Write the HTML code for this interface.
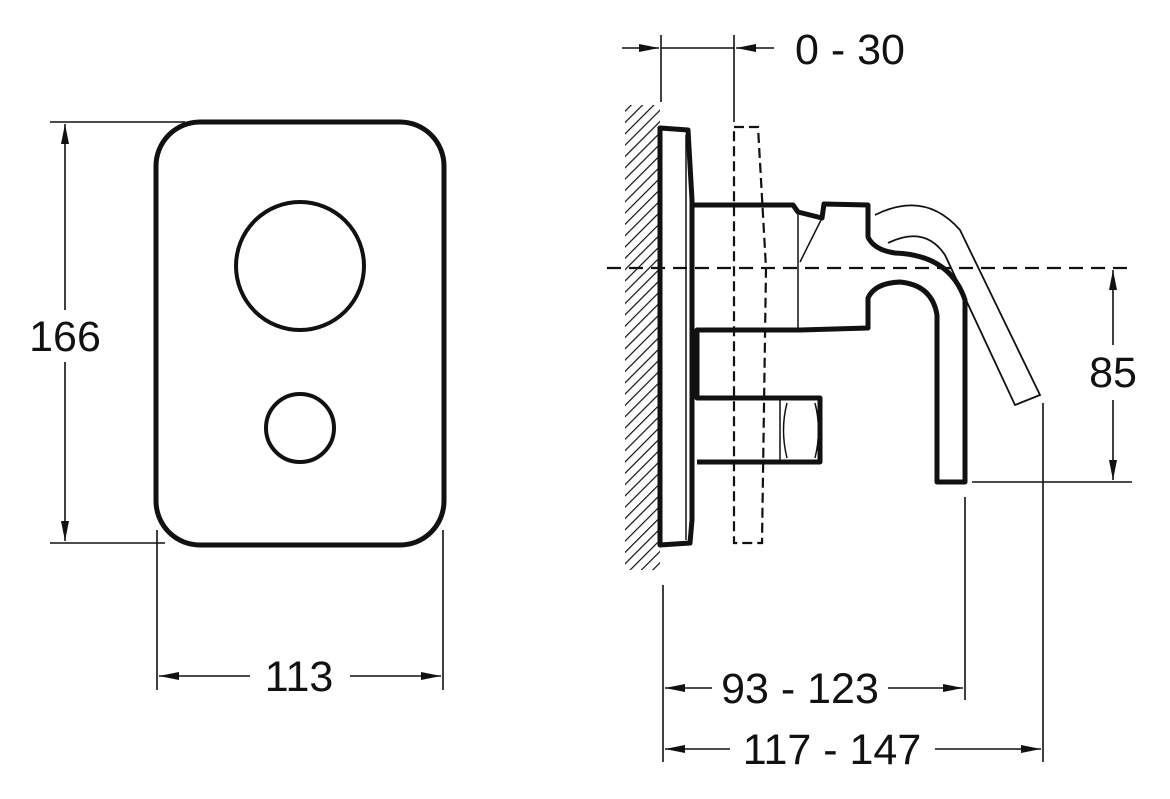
<!DOCTYPE html>
<html><head><style>
html,body{margin:0;padding:0;background:#fff;}
svg{display:block;}
text{font-family:"Liberation Sans",Arial,sans-serif;font-size:43px;fill:#111;}
</style></head><body>
<svg width="1170" height="799" viewBox="0 0 1170 799" xmlns="http://www.w3.org/2000/svg">
<defs>
<pattern id="h" width="8" height="8" patternUnits="userSpaceOnUse" patternTransform="rotate(45)">
<line x1="0" y1="0" x2="0" y2="8" stroke="#111" stroke-width="2.4"/>
</pattern>
<marker id="a" viewBox="0 0 20 8" refX="20" refY="4" markerWidth="20" markerHeight="8" markerUnits="userSpaceOnUse" orient="auto-start-reverse">
<path d="M0,0 L20,4 L0,8 z" fill="#111"/>
</marker>
</defs>
<g stroke="#111" fill="none">
<rect x="156" y="122" width="288" height="423" rx="44" stroke-width="5"/>
<circle cx="300" cy="266" r="64" stroke-width="4"/>
<circle cx="300" cy="428" r="34" stroke-width="4"/>
<g stroke-width="1.6">
<line x1="50" y1="122" x2="185" y2="122"/>
<line x1="50" y1="543" x2="165" y2="543"/>
<line x1="65" y1="310" x2="65" y2="124" marker-end="url(#a)"/>
<line x1="65" y1="362" x2="65" y2="541" marker-end="url(#a)"/>
<line x1="157" y1="530" x2="157" y2="690"/>
<line x1="443" y1="530" x2="443" y2="690"/>
<line x1="250" y1="676" x2="159" y2="676" marker-end="url(#a)"/>
<line x1="350" y1="676" x2="441" y2="676" marker-end="url(#a)"/>
</g>
<rect x="625" y="105" width="35" height="465" fill="url(#h)" stroke="none"/>
<path d="M660,128 L688,130 L692,200 L692,520 L690,543 L660,545 Z" stroke-width="5" stroke-linejoin="round"/>
<path d="M686,135 L686,540" stroke-width="1.5"/>
<path d="M734,127 L758,127 L766,268 L762,543 L734,543 Z" stroke-width="2.2" stroke-dasharray="10,5"/>
<path d="M692,205 L793,205 L798,212 L822,218 L824,204 L868,205 L868,237 Q874,250 895,253 Q950,255 965,300 L965,482 L937,482 L937,315 Q932,285 900,282 Q875,283 868,298 L868,328 L800,330 L697,330 L697,398 L820,398 L820,462 L697,462" stroke-width="5" stroke-linejoin="round"/>
<path d="M798,212 L798,330 M800,214 L822,218 L800,262" stroke-width="1.5"/>
<path d="M780,398 L780,462 M787,403 Q780,430 787,458 M815,403 Q822,430 815,458" stroke-width="1.5"/>
<path d="M875,215 Q925,190 960,230 L1040,395 L1015,405 L945,255 Q925,225 888,243" stroke-width="1.8"/>
<line x1="607" y1="268" x2="1130" y2="268" stroke-width="2.2" stroke-dasharray="14,8"/>
<g stroke-width="1.6">
<line x1="661" y1="35" x2="661" y2="102"/>
<line x1="734" y1="35" x2="734" y2="122"/>
<line x1="622" y1="48" x2="659" y2="48" marker-end="url(#a)"/>
<line x1="661" y1="48" x2="734" y2="48"/>
<line x1="774" y1="48" x2="736" y2="48" marker-end="url(#a)"/>
<line x1="972" y1="482" x2="1132" y2="482"/>
<line x1="1113" y1="345" x2="1113" y2="270" marker-end="url(#a)"/>
<line x1="1113" y1="400" x2="1113" y2="480" marker-end="url(#a)"/>
<line x1="663" y1="585" x2="663" y2="762"/>
<line x1="965" y1="497" x2="965" y2="700"/>
<line x1="1043" y1="403" x2="1043" y2="762"/>
<line x1="712" y1="688" x2="665" y2="688" marker-end="url(#a)"/>
<line x1="888" y1="688" x2="963" y2="688" marker-end="url(#a)"/>
<line x1="730" y1="749" x2="665" y2="749" marker-end="url(#a)"/>
<line x1="935" y1="749" x2="1041" y2="749" marker-end="url(#a)"/>
</g>
</g>
<text x="65" y="351" text-anchor="middle">166</text>
<text x="299" y="691" text-anchor="middle">113</text>
<text x="850" y="64" text-anchor="middle">0 - 30</text>
<text x="1113" y="387" text-anchor="middle">85</text>
<text x="800" y="703" text-anchor="middle">93 - 123</text>
<text x="832" y="764" text-anchor="middle">117 - 147</text>
</svg>
</body></html>
